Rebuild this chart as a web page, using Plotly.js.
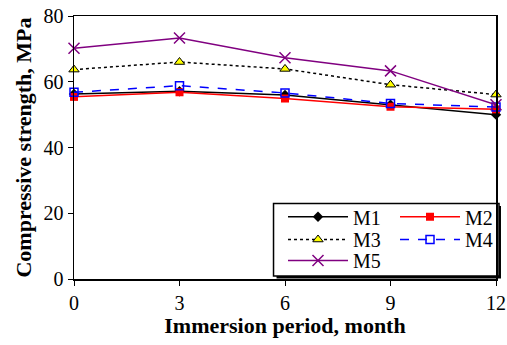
<!DOCTYPE html>
<html>
<head>
<meta charset="utf-8">
<script src="https://cdn.plot.ly/plotly-3.0.1.min.js"></script>
<style>html,body{margin:0;padding:0;background:#fff;}#chart{width:507px;height:345px;}</style>
</head>
<body>
<div id="chart"></div>
<script>
const months = [0, 3, 6, 9, 12];
const M1 = [56.3, 57.1, 56.0, 53.0, 50.0];
const M2 = [55.4, 56.8, 54.9, 52.4, 51.6];
const M3 = [63.7, 66.0, 63.9, 59.1, 56.1];
const M4 = [56.8, 58.8, 56.6, 53.4, 52.3];
const M5 = [70.2, 73.3, 67.3, 63.3, 53.0];
const seriesNames = ['M1', 'M2', 'M3', 'M4', 'M5'];
const xTicks = [0, 3, 6, 9, 12];
const yTicks = [0, 20, 40, 60, 80];

const W = 507, H = 345;
const mL = 74, mR = 10, mT = 16, mB = 66;
const pw = W - mL - mR, ph = H - mT - mB;
const px = v => (v - mL) / pw;
const py = v => (H - mB - v) / ph;
const FAM = 'Liberation Serif, Times New Roman, serif';

const styles = [
  {line: {color: '#000000', width: 1.5},
   marker: {symbol: 'diamond', size: 8, color: '#000000'}},
  {line: {color: '#FF0000', width: 1.5},
   marker: {symbol: 'square', size: 8, color: '#FF0000'}},
  {line: {color: '#000000', width: 1.5, dash: 'dot'},
   marker: {symbol: 'triangle-up', size: 9, color: '#FFFF00', line: {color: '#000000', width: 1}}},
  {line: {color: '#0000FF', width: 1.5, dash: 'dash'},
   marker: {symbol: 'square-open', size: 8, color: '#0000FF', line: {width: 1.5}}},
  {line: {color: '#800080', width: 1.5},
   marker: {symbol: 'x-thin-open', size: 11, color: '#800080', line: {color: '#800080', width: 1.5}}}
];
const values = [M1, M2, M3, M4, M5];
const legendIds = ['legend', 'legend2', 'legend3', 'legend4', 'legend5'];

const traces = values.map((v, i) => Object.assign({
  name: seriesNames[i], x: months, y: v, mode: 'lines+markers',
  cliponaxis: false, legend: legendIds[i]
}, styles[i]));

const colX = [283, 395];
const rowY = [216.7, 239.5, 260.5];
const legendBase = {
  xanchor: 'left', yanchor: 'middle', bgcolor: 'rgba(0,0,0,0)',
  borderwidth: 0, font: {family: FAM, size: 20, color: '#000000'}, itemwidth: 60
};
const legends = {};
legendIds.forEach((id, i) => {
  legends[id] = Object.assign({}, legendBase, {
    x: px(colX[i % 2]), y: py(rowY[Math.floor(i / 2)])
  });
});

const layout = Object.assign({
  width: W, height: H,
  margin: {l: mL, r: mR, t: mT, b: mB, pad: 0},
  paper_bgcolor: '#ffffff', plot_bgcolor: '#ffffff',
  font: {family: FAM, color: '#000000', size: 20},
  showlegend: true,
  xaxis: {
    range: [0, 12], tickvals: xTicks, ticktext: xTicks.map(String),
    showgrid: false, zeroline: false, showline: true, linecolor: '#000000', linewidth: 1.5,
    mirror: true, ticks: 'outside', ticklen: 5, tickcolor: '#000000', tickwidth: 1,
    tickfont: {family: FAM, size: 20, color: '#000000'}, ticklabelstandoff: 0, automargin: false,
    title: {text: '<b>Immersion period, month</b>', font: {family: FAM, size: 22, color: '#000000'}, standoff: 0}
  },
  yaxis: {
    range: [0, 80], tickvals: yTicks, ticktext: yTicks.map(String),
    showgrid: false, zeroline: false, showline: true, linecolor: '#000000', linewidth: 1.5,
    mirror: true, ticks: 'outside', ticklen: 5, tickcolor: '#000000', tickwidth: 1,
    tickfont: {family: FAM, size: 20, color: '#000000'}, automargin: false,
    title: {text: '<b>Compressive strength, MPa</b>', font: {family: FAM, size: 22, color: '#000000'}, standoff: 6}
  },
  shapes: [
    {type: 'rect', xref: 'paper', yref: 'paper', layer: 'below',
     x0: px(277), x1: px(502), y0: py(206), y1: py(278.5),
     fillcolor: '#000000', line: {width: 0}},
    {type: 'rect', xref: 'paper', yref: 'paper', layer: 'below',
     x0: px(274), x1: px(500), y0: py(203.5), y1: py(276),
     fillcolor: '#ffffff', line: {color: '#000000', width: 1.5}}
  ]
}, legends);

Plotly.newPlot('chart', traces, layout, {displayModeBar: false, staticPlot: true});
</script>
</body>
</html>
